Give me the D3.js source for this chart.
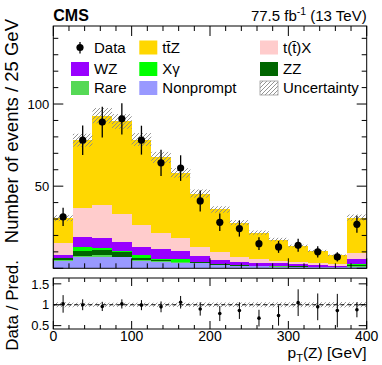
<!DOCTYPE html>
<html><head><meta charset="utf-8">
<script src="https://cdn.jsdelivr.net/npm/d3@7"></script>
<style>
body{margin:0;background:#fff}
svg{display:block}
text{font-family:"Liberation Sans",Arial,Helvetica,sans-serif;fill:#000}
</style>
</head><body>
<svg id="chart" width="382" height="365"></svg>
<script>
// ---------------- data ----------------
const binEdges = [0,25,50,75,100,125,150,175,200,225,250,275,300,325,350,375,400];
const processes = ["Nonprompt","Rare","ZZ","Xgamma","WZ","tX","ttZ"];
const nonprompt = [4.5,7.0,7.0,6.6,4.5,3.8,3.4,3.0,2.0,1.6,1.2,1.0,0.8,0.6,0.5,1.0];
const rare      = [0.3,0.5,0.8,0.4,0.4,0.4,0.2,0.2,0.1,0.1,0.1,0.1,0.1,0.1,0.1,0.2];
const zz        = [1.3,2.8,3.5,2.9,1.4,0.8,0.4,0.4,0.3,0.3,0.2,0.2,0.2,0.2,0.1,0.6];
const xgamma    = [0.2,2.6,0.8,0.5,1.7,0.9,1.4,0.4,0.2,0.1,0.2,0.2,0.4,0.1,0.1,0.6];
const wz        = [1.6,6.1,6.4,5.4,5.1,5.7,5.3,3.7,2.4,1.9,1.7,1.5,1.0,1.0,0.8,3.5];
const ttx       = [7.3,17.7,19.9,17.3,13.2,10.1,7.6,5.5,4.7,2.7,2.0,1.4,1.3,1.0,1.0,3.2];
const ttz       = [15.3,41.3,54.5,56.3,52.1,45.8,39.8,32.3,26.1,21.1,16.3,13.1,9.8,7.6,5.3,21.8];
const relUncertainty = [0.06,0.05,0.05,0.05,0.05,0.05,0.05,0.055,0.055,0.055,0.06,0.06,0.06,0.06,0.065,0.06];
const dataValues = [31.3,78,89,91,78,64.2,61,41,28,24.2,15,13,14,10,6.9,26.8];
const dataErrors = [5.6,9.0,9.4,9.5,8.8,8.0,7.8,6.4,5.3,4.9,3.9,3.6,4.0,3.4,2.8,5.2];
const ratioValues = [1.02,1.0,0.96,1.02,0.99,0.95,1.06,0.9,0.79,0.86,0.68,0.74,1.05,0.95,0.86,0.88];
const ratioErrors = [0.21,0.13,0.11,0.11,0.12,0.13,0.15,0.16,0.18,0.2,0.2,0.24,0.32,0.32,0.4,0.18];
const xTicksMajor = [0,100,200,300,400];
const yTicksMain = [50,100];
const yTicksRatio = [0.5,1,1.5];

const colors = {Nonprompt:"#9999ff",Rare:"#55d955",ZZ:"#006600",Xgamma:"#00ff00",WZ:"#9900ff",tX:"#ffcccc",ttZ:"#ffd700"};

// ---------------- layout ----------------
const L = 53.3, R = 366.7;
const mainTop = 26, mainBot = 268.3;
const ratTop = 278, ratBot = 329;

const svg = d3.select("#chart");
const x = d3.scaleLinear().domain([0,400]).range([L,R]);
const y = d3.scaleLinear().domain([0,147.5]).range([mainBot,mainTop]);
const yr = d3.scaleLinear().domain([0.42,1.64]).range([ratBot,ratTop]);

// hatch pattern
const defs = svg.append("defs");
const pat = defs.append("pattern").attr("id","hatch").attr("patternUnits","userSpaceOnUse")
  .attr("width",4).attr("height",4);
pat.append("path").attr("d","M-1,1 l2,-2 M0,4 l4,-4 M3,5 l2,-2")
  .attr("stroke","#888").attr("stroke-width",0.9);

// clip paths
defs.append("clipPath").attr("id","clipMain").append("rect")
  .attr("x",L).attr("y",mainTop).attr("width",R-L).attr("height",mainBot-mainTop);
defs.append("clipPath").attr("id","clipRat").append("rect")
  .attr("x",L).attr("y",ratTop).attr("width",R-L).attr("height",ratBot-ratTop);

// ---------------- main stack ----------------
const bins = binEdges.slice(0,-1).map((e,i)=>({
  lo:e, hi:binEdges[i+1],
  Nonprompt:nonprompt[i], Rare:rare[i], ZZ:zz[i], Xgamma:xgamma[i], WZ:wz[i], tX:ttx[i], ttZ:ttz[i]
}));
const stacked = d3.stack().keys(processes)(bins);
const gMain = svg.append("g").attr("clip-path","url(#clipMain)");
stacked.forEach(layer=>{
  gMain.append("g").selectAll("rect").data(layer).join("rect")
    .attr("x",d=>x(d.data.lo)).attr("width",d=>x(d.data.hi)-x(d.data.lo))
    .attr("y",d=>y(d[1])).attr("height",d=>Math.max(0,y(d[0])-y(d[1])))
    .attr("fill",colors[layer.key]).attr("shape-rendering","crispEdges");
});
const totals = bins.map(b=>processes.reduce((s,k)=>s+b[k],0));
// uncertainty band
gMain.append("g").selectAll("rect").data(bins).join("rect")
  .attr("x",d=>x(d.lo)).attr("width",d=>x(d.hi)-x(d.lo))
  .attr("y",(d,i)=>y(totals[i]*(1+relUncertainty[i])))
  .attr("height",(d,i)=>y(totals[i]*(1-relUncertainty[i]))-y(totals[i]*(1+relUncertainty[i])))
  .attr("fill","url(#hatch)");

// data points
const gData = svg.append("g");
bins.forEach((b,i)=>{
  const cx = x((b.lo+b.hi)/2);
  gData.append("line").attr("x1",cx).attr("x2",cx)
    .attr("y1",y(dataValues[i]-dataErrors[i])).attr("y2",y(dataValues[i]+dataErrors[i]))
    .attr("stroke","#000").attr("stroke-width",1.3);
  gData.append("circle").attr("cx",cx).attr("cy",y(dataValues[i])).attr("r",3.6).attr("fill","#000");
});

// ---------------- ratio panel ----------------
const gRat = svg.append("g").attr("clip-path","url(#clipRat)");
gRat.append("g").selectAll("rect").data(bins).join("rect")
  .attr("x",d=>x(d.lo)).attr("width",d=>x(d.hi)-x(d.lo))
  .attr("y",(d,i)=>yr(1+relUncertainty[i])).attr("height",(d,i)=>yr(1-relUncertainty[i])-yr(1+relUncertainty[i]))
  .attr("fill","url(#hatch)");
gRat.append("line").attr("x1",L).attr("x2",R).attr("y1",yr(1)).attr("y2",yr(1))
  .attr("stroke","#000").attr("stroke-width",1).attr("stroke-dasharray","4,3");
bins.forEach((b,i)=>{
  const cx = x((b.lo+b.hi)/2);
  gRat.append("line").attr("x1",cx).attr("x2",cx)
    .attr("y1",yr(ratioValues[i]-ratioErrors[i])).attr("y2",yr(ratioValues[i]+ratioErrors[i]))
    .attr("stroke","#000").attr("stroke-width",1);
  gRat.append("circle").attr("cx",cx).attr("cy",yr(ratioValues[i])).attr("r",1.8).attr("fill","#000");
});

// ---------------- frames & ticks ----------------
function frame(top,bot){
  svg.append("rect").attr("x",L).attr("y",top).attr("width",R-L).attr("height",bot-top)
    .attr("fill","none").attr("stroke","#000").attr("stroke-width",1);
}
frame(mainTop,mainBot); frame(ratTop,ratBot);
const tk = svg.append("g").attr("stroke","#000").attr("stroke-width",1);
function xTicks(top,bot,maj,minr){
  d3.range(0,401,20).forEach(v=>{
    const len = (v%100===0)?maj:minr;
    const px = x(v);
    tk.append("line").attr("x1",px).attr("x2",px).attr("y1",bot).attr("y2",bot-len);
    tk.append("line").attr("x1",px).attr("x2",px).attr("y1",top).attr("y2",top+len);
  });
}
xTicks(mainTop,mainBot,10,5);
xTicks(ratTop,ratBot,8,4);
d3.range(0,148,10).forEach(v=>{
  const len = (v%50===0)?10:5;
  const py = y(v);
  tk.append("line").attr("x1",L).attr("x2",L+len).attr("y1",py).attr("y2",py);
  tk.append("line").attr("x1",R).attr("x2",R-len).attr("y1",py).attr("y2",py);
});
yTicksRatio.forEach(v=>{
  const py = yr(v);
  tk.append("line").attr("x1",L).attr("x2",L+8).attr("y1",py).attr("y2",py);
  tk.append("line").attr("x1",R).attr("x2",R-8).attr("y1",py).attr("y2",py);
});

// tick labels
svg.append("g").selectAll("text").data(yTicksMain).join("text")
  .attr("x",L-4).attr("y",d=>y(d)).attr("dy","0.36em").attr("text-anchor","end")
  .attr("font-size",13).text(d=>d);
svg.append("g").selectAll("text").data(yTicksRatio).join("text")
  .attr("x",L-4).attr("y",d=>yr(d)).attr("dy","0.36em").attr("text-anchor","end")
  .attr("font-size",13).text(d=>d);
svg.append("g").selectAll("text").data(xTicksMajor).join("text")
  .attr("x",d=>x(d)).attr("y",ratBot+11.5).attr("text-anchor","middle")
  .attr("font-size",14).text(d=>d);

// axis titles
svg.append("text").attr("transform",`translate(18,19) rotate(-90)`)
  .attr("text-anchor","end").attr("font-size",18.5).text("Number of events / 25 GeV");
svg.append("text").attr("transform",`translate(18,${(ratTop+ratBot)/2+2}) rotate(-90)`)
  .attr("text-anchor","middle").attr("font-size",17).text("Data / Pred.");
const xt = svg.append("text").attr("x",R).attr("y",357.5).attr("text-anchor","end").attr("font-size",15.5);
xt.append("tspan").text("p");
xt.append("tspan").attr("font-size",11).attr("dy",4).text("T");
xt.append("tspan").attr("dy",-4).text("(Z) [GeV]");

// header
svg.append("text").attr("x",L).attr("y",20.5).attr("font-size",16).attr("font-weight","bold").text("CMS");
const lt = svg.append("text").attr("x",R).attr("y",20.5).attr("text-anchor","end").attr("font-size",15);
lt.append("tspan").text("77.5 fb");
lt.append("tspan").attr("font-size",10.5).attr("dy",-5.5).text("-1");
lt.append("tspan").attr("dy",5.5).text(" (13 TeV)");

// ---------------- legend ----------------
const legendItems = [
  {label:"Data", type:"data", col:0, row:0},
  {label:"tt\u0304Z", key:"ttZ", col:1, row:0},
  {label:"t(t\u0304)X", key:"tX", col:2, row:0},
  {label:"WZ", key:"WZ", col:0, row:1},
  {label:"X\u03b3", key:"Xgamma", col:1, row:1},
  {label:"ZZ", key:"ZZ", col:2, row:1},
  {label:"Rare", key:"Rare", col:0, row:2},
  {label:"Nonprompt", key:"Nonprompt", col:1, row:2},
  {label:"Uncertainty", type:"unc", col:2, row:2}
];
const colX = [71,139.3,260];
const rowY = [47.5,69,88];
const gLeg = svg.append("g");
legendItems.forEach(it=>{
  const bx = colX[it.col], cy = rowY[it.row];
  if(it.type==="data"){
    gLeg.append("line").attr("x1",bx+9).attr("x2",bx+9).attr("y1",cy-5.5).attr("y2",cy+6)
      .attr("stroke","#000").attr("stroke-width",1.3);
    gLeg.append("circle").attr("cx",bx+9).attr("cy",cy).attr("r",3.6).attr("fill","#000");
  } else if(it.type==="unc"){
    gLeg.append("rect").attr("x",bx).attr("y",cy-7).attr("width",18).attr("height",14)
      .attr("fill","url(#hatch)").attr("stroke","#999").attr("stroke-width",0.8);
  } else {
    gLeg.append("rect").attr("x",bx).attr("y",cy-7).attr("width",18).attr("height",14)
      .attr("fill",colors[it.key]);
  }
  gLeg.append("text").attr("x",bx+23).attr("y",cy).attr("dy","0.36em").attr("font-size",15).text(it.label);
});
</script>
</body></html>
